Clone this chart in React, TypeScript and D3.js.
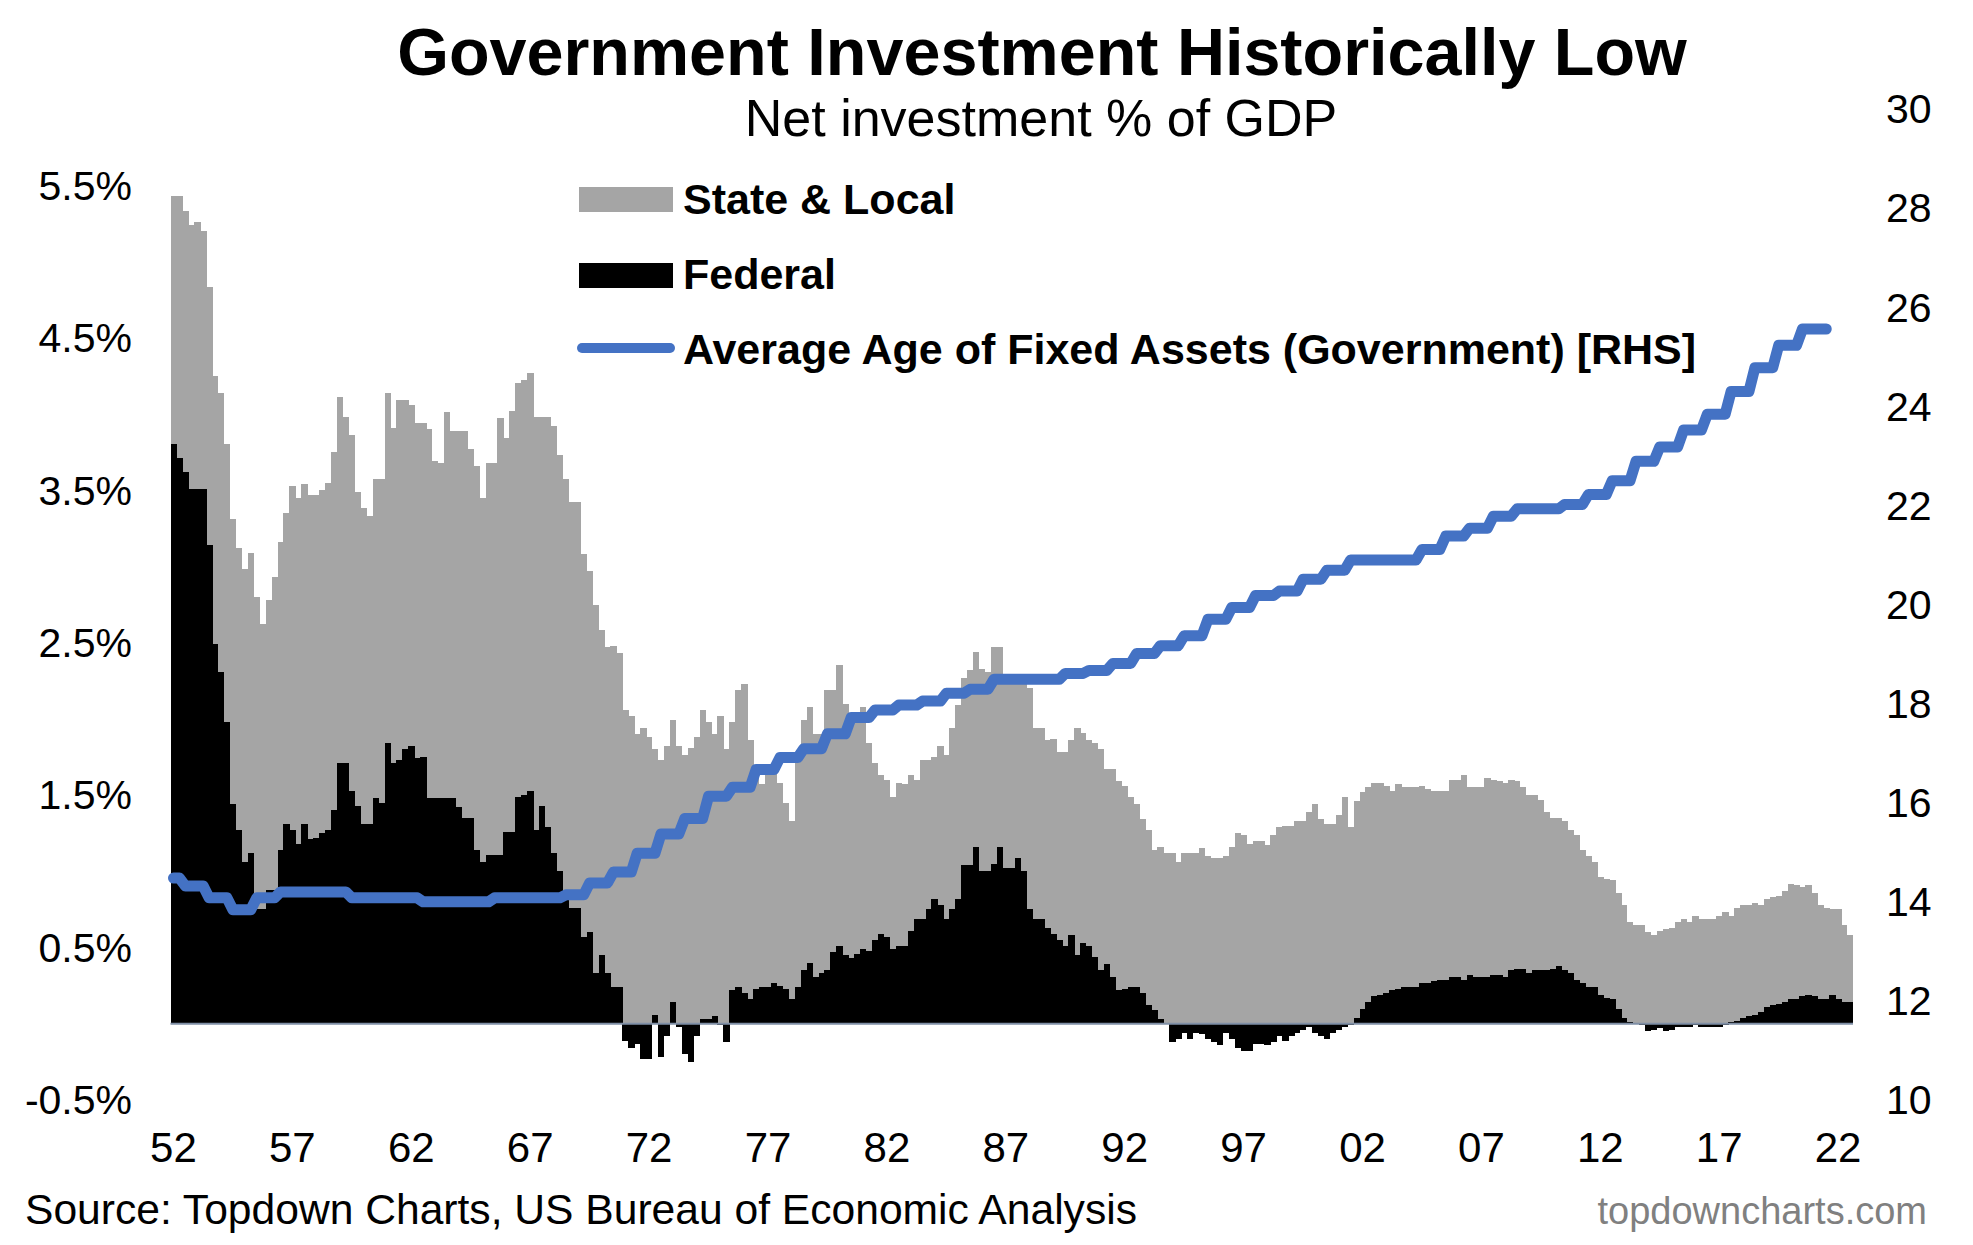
import { useEffect } from "react"
import * as d3 from "d3"

// quarterly, 1952Q1 .. 2022Q3, net investment % of GDP
const federal = [
  3.80, 3.71, 3.62, 3.51, 3.51, 3.51, 3.14, 2.49, 2.31, 1.98, 1.44, 1.27,
  1.06, 1.12, 0.75, 0.75, 0.88, 0.88, 1.14, 1.31, 1.27, 1.18, 1.31, 1.21,
  1.22, 1.25, 1.27, 1.40, 1.71, 1.71, 1.53, 1.43, 1.31, 1.31, 1.48, 1.45,
  1.84, 1.71, 1.73, 1.80, 1.82, 1.74, 1.75, 1.48, 1.48, 1.48, 1.48, 1.48,
  1.42, 1.35, 1.35, 1.14, 1.06, 1.11, 1.11, 1.11, 1.26, 1.26, 1.49, 1.50,
  1.53, 1.27, 1.43, 1.29, 1.12, 1.00, 0.84, 0.76, 0.76, 0.57, 0.60, 0.33,
  0.45, 0.33, 0.24, 0.24, -0.11, -0.16, -0.13, -0.23, -0.23, 0.06, -0.22, -0.08,
  0.14, -0.02, -0.20, -0.25, -0.08, 0.03, 0.03, 0.05, -0.01, -0.12, 0.22, 0.24,
  0.20, 0.16, 0.23, 0.24, 0.24, 0.27, 0.25, 0.23, 0.16, 0.24, 0.35, 0.40,
  0.31, 0.33, 0.35, 0.47, 0.51, 0.45, 0.43, 0.46, 0.49, 0.48, 0.55, 0.59,
  0.57, 0.49, 0.51, 0.51, 0.61, 0.69, 0.69, 0.75, 0.82, 0.78, 0.69, 0.75,
  0.82, 1.04, 1.04, 1.16, 1.00, 1.00, 1.05, 1.16, 1.02, 1.02, 1.09, 1.00,
  0.75, 0.69, 0.69, 0.63, 0.59, 0.55, 0.51, 0.58, 0.45, 0.53, 0.51, 0.44,
  0.35, 0.39, 0.31, 0.22, 0.23, 0.24, 0.24, 0.20, 0.12, 0.09, 0.03, 0.00,
  -0.12, -0.10, -0.06, -0.10, -0.06, -0.07, -0.10, -0.12, -0.14, -0.06, -0.10, -0.16,
  -0.18, -0.18, -0.13, -0.13, -0.14, -0.12, -0.08, -0.11, -0.08, -0.06, -0.04, -0.02,
  -0.06, -0.08, -0.10, -0.06, -0.04, -0.02, -0.01, 0.04, 0.10, 0.14, 0.18, 0.19,
  0.20, 0.22, 0.23, 0.24, 0.24, 0.24, 0.27, 0.27, 0.28, 0.29, 0.29, 0.31,
  0.31, 0.29, 0.32, 0.31, 0.31, 0.31, 0.32, 0.32, 0.31, 0.35, 0.36, 0.36,
  0.33, 0.35, 0.35, 0.35, 0.36, 0.38, 0.35, 0.33, 0.29, 0.27, 0.24, 0.24,
  0.19, 0.17, 0.16, 0.10, 0.04, 0.01, 0.00, -0.01, -0.05, -0.04, -0.03, -0.05,
  -0.04, -0.02, -0.02, -0.02, -0.01, -0.02, -0.02, -0.02, -0.02, -0.01, 0.01, 0.02,
  0.04, 0.05, 0.06, 0.08, 0.11, 0.12, 0.13, 0.14, 0.16, 0.16, 0.18, 0.19,
  0.18, 0.16, 0.16, 0.19, 0.16, 0.14, 0.14,
]

const stateLocal = [
  1.63, 1.72, 1.71, 1.73, 1.75, 1.69, 1.69, 1.76, 1.83, 1.82, 1.87, 1.85,
  1.92, 1.97, 2.05, 1.87, 1.90, 2.05, 2.02, 2.04, 2.26, 2.27, 2.23, 2.26,
  2.25, 2.25, 2.28, 2.35, 2.40, 2.27, 2.33, 2.06, 2.07, 2.02, 2.09, 2.12,
  2.30, 2.20, 2.36, 2.29, 2.24, 2.20, 2.19, 2.42, 2.21, 2.20, 2.53, 2.41,
  2.47, 2.54, 2.42, 2.52, 2.39, 2.57, 2.57, 2.86, 2.58, 2.76, 2.71, 2.72,
  2.74, 2.71, 2.55, 2.69, 2.80, 2.73, 2.73, 2.66, 2.66, 2.51, 2.37, 2.42,
  2.13, 2.14, 2.24, 2.19, 2.06, 2.02, 1.90, 1.94, 1.88, 1.74, 1.73, 1.82,
  1.85, 1.82, 1.76, 1.81, 1.88, 2.03, 1.95, 1.85, 2.02, 1.80, 1.76, 1.95,
  2.03, 1.70, 1.42, 1.33, 1.41, 1.38, 1.33, 1.22, 1.17, 1.52, 1.64, 1.68,
  1.59, 1.57, 1.84, 1.72, 1.84, 1.65, 1.61, 1.56, 1.59, 1.36, 1.16, 1.04,
  1.03, 1.00, 1.07, 1.06, 1.02, 0.91, 1.04, 0.98, 0.93, 1.04, 1.07, 1.19,
  1.27, 1.23, 1.28, 1.28, 1.33, 1.31, 1.42, 1.31, 1.22, 1.22, 1.15, 1.24,
  1.45, 1.25, 1.25, 1.23, 1.28, 1.23, 1.27, 1.28, 1.49, 1.38, 1.35, 1.40,
  1.45, 1.28, 1.36, 1.37, 1.33, 1.25, 1.20, 1.14, 1.15, 1.05, 1.13, 1.12,
  1.12, 1.06, 1.12, 1.12, 1.12, 1.15, 1.10, 1.09, 1.09, 1.10, 1.16, 1.25,
  1.24, 1.18, 1.20, 1.20, 1.17, 1.24, 1.29, 1.30, 1.30, 1.33, 1.33, 1.39,
  1.44, 1.34, 1.31, 1.31, 1.37, 1.49, 1.29, 1.42, 1.42, 1.41, 1.40, 1.39,
  1.36, 1.31, 1.34, 1.31, 1.31, 1.31, 1.29, 1.27, 1.25, 1.24, 1.24, 1.29,
  1.29, 1.34, 1.23, 1.24, 1.24, 1.30, 1.28, 1.27, 1.27, 1.25, 1.23, 1.19,
  1.17, 1.15, 1.12, 1.04, 0.99, 0.97, 0.98, 0.94, 0.95, 0.87, 0.86, 0.82,
  0.77, 0.78, 0.78, 0.76, 0.74, 0.66, 0.65, 0.65, 0.60, 0.58, 0.61, 0.62,
  0.63, 0.67, 0.69, 0.67, 0.71, 0.69, 0.69, 0.69, 0.71, 0.73, 0.70, 0.74,
  0.74, 0.73, 0.73, 0.70, 0.71, 0.71, 0.71, 0.73, 0.76, 0.75, 0.72, 0.72,
  0.68, 0.62, 0.60, 0.56, 0.59, 0.51, 0.44,
]

// annual, 1951 .. 2020; each value shown from Q3 of its year to Q2 of the next
const ageFirstYear = 1951
const ageYears = [
  14.48, 14.32, 14.08, 13.84, 14.08, 14.2, 14.2, 14.2, 14.08, 14.08,
  14.08, 14.0, 14.0, 14.0, 14.08, 14.08, 14.08, 14.14, 14.38, 14.6,
  14.98, 15.37, 15.68, 16.13, 16.31, 16.67, 16.91, 17.09, 17.39, 17.72,
  17.87, 17.97, 18.05, 18.21, 18.29, 18.49, 18.49, 18.49, 18.61, 18.67,
  18.81, 19.01, 19.17, 19.37, 19.7, 19.94, 20.18, 20.27, 20.51, 20.69,
  20.9, 20.9, 20.9, 21.11, 21.38, 21.54, 21.78, 21.93, 21.93, 22.02,
  22.22, 22.5, 22.89, 23.18, 23.52, 23.84, 24.3, 24.78, 25.23, 25.56,
]
const ageLastQuarter = 278 // 2021Q3

const firstYear = 1952
const yearTicks = [1952, 1957, 1962, 1967, 1972, 1977, 1982, 1987, 1992, 1997, 2002, 2007, 2012, 2017, 2022]
const leftTicks = [-0.5, 0.5, 1.5, 2.5, 3.5, 4.5, 5.5]
const rightTicks = [10, 12, 14, 16, 18, 20, 22, 24, 26, 28, 30]

const W = 1973
const H = 1245
const font = "'Liberation Sans', Arial, sans-serif"
const gray = "#a5a5a5"
const blue = "#4472c4"

export default function App() {
  useEffect(() => {
    document.body.style.margin = "0"
  }, [])

  const n = federal.length
  const x = d3.scaleBand<number>().domain(d3.range(n)).range([170.5, 1853]).padding(0)
  const bw = x.bandwidth()
  const cx = (i: number) => (x(i) ?? 0) + bw / 2

  const yL = d3.scaleLinear().domain([-0.5, 6]).range([1100, 109])
  const yR = d3.scaleLinear().domain([10, 30]).range([1100, 109])

  const rows = federal.map((f, i) => ({ i, federal: f, stateLocal: stateLocal[i] }))
  const series = d3
    .stack<{ i: number; federal: number; stateLocal: number }>()
    .keys(["federal", "stateLocal"])
    .offset(d3.stackOffsetDiverging)(rows)
  const fills: Record<string, string> = { federal: "#000", stateLocal: gray }

  const agePts: [number, number][] = ageYears.flatMap((v, k) => {
    const base = (ageFirstYear + k - firstYear) * 4
    const start = Math.max(0, base + 2)
    const end = k === ageYears.length - 1 ? ageLastQuarter : base + 5
    return [
      [start, v],
      [end, v],
    ] as [number, number][]
  })
  const line = d3
    .line<[number, number]>()
    .x((d) => cx(d[0]))
    .y((d) => yR(d[1]))

  return (
    <svg
      width={W}
      height={H}
      viewBox={`0 0 ${W} ${H}`}
      style={{ position: "absolute", left: 0, top: 0, display: "block", background: "#fff" }}
      fontFamily={font}
    >
      <text x={1042} y={75} textAnchor="middle" fontSize={66.5} fontWeight={700}>
        Government Investment Historically Low
      </text>
      <text x={1041} y={136} textAnchor="middle" fontSize={52}>
        Net investment % of GDP
      </text>

      {/* stacked bars: State & Local behind, Federal drawn last */}
      {series
        .slice()
        .reverse()
        .map((s) => (
          <g key={s.key} fill={fills[s.key]} shapeRendering="crispEdges">
            {s.map((d, i) => {
              const y0 = yL(d[0])
              const y1 = yL(d[1])
              return (
                <rect
                  key={i}
                  x={x(i)}
                  y={Math.min(y0, y1)}
                  width={bw + 0.4}
                  height={Math.abs(y1 - y0)}
                />
              )
            })}
          </g>
        ))}

      <line x1={170.5} x2={1853} y1={yL(0)} y2={yL(0)} stroke="#7f8fa6" strokeWidth={2} />

      <path
        d={line(agePts) ?? ""}
        fill="none"
        stroke={blue}
        strokeWidth={11}
        strokeLinejoin="round"
        strokeLinecap="round"
      />

      {leftTicks.map((t) => (
        <text key={t} x={132} y={yL(t)} dy="0.35em" textAnchor="end" fontSize={41}>
          {`${t.toFixed(1)}%`}
        </text>
      ))}
      {rightTicks.map((t) => (
        <text key={t} x={1886} y={yR(t)} dy="0.35em" textAnchor="start" fontSize={41}>
          {t}
        </text>
      ))}
      {yearTicks.map((yr) => (
        <text key={yr} x={cx((yr - firstYear) * 4)} y={1162} textAnchor="middle" fontSize={42}>
          {String(yr % 100).padStart(2, "0")}
        </text>
      ))}

      {/* legend */}
      <rect x={579} y={187} width={94} height={25} fill={gray} />
      <rect x={579} y={263} width={94} height={25} fill="#000" />
      <line x1={582} x2={670} y1={348} y2={348} stroke={blue} strokeWidth={10} strokeLinecap="round" />
      <g fontSize={43} fontWeight={700}>
        <text x={683} y={214}>State &amp; Local</text>
        <text x={683} y={289}>Federal</text>
        <text x={683} y={364}>Average Age of Fixed Assets (Government) [RHS]</text>
      </g>

      <text x={25} y={1224} fontSize={42.6}>
        Source: Topdown Charts, US Bureau of Economic Analysis
      </text>
      <text x={1927} y={1224} textAnchor="end" fontSize={38} fill="#808080">
        topdowncharts.com
      </text>
    </svg>
  )
}
